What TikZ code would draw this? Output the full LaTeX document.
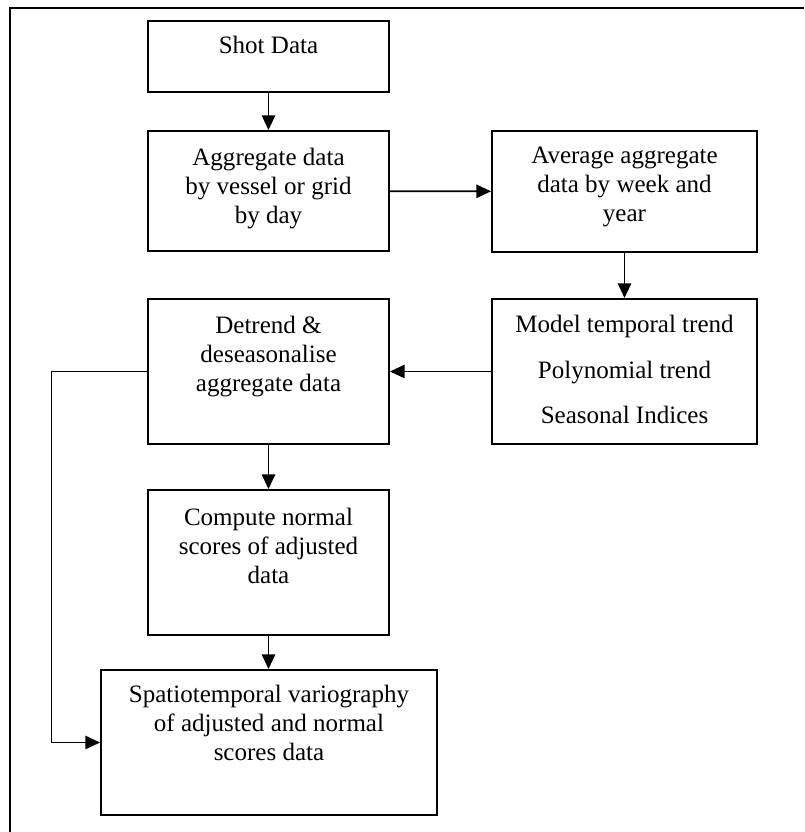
\documentclass[tikz,border=0pt]{standalone}
\usepackage{fontspec}
\setmainfont{Liberation Serif}
\usetikzlibrary{arrows.meta}

\begin{document}
\begin{tikzpicture}[x=0.025cm, y=-0.025cm]
      \tikzstyle{block} = [rectangle, draw, line width=1.3pt, minimum width=6.025cm, minimum height=3.625cm, inner sep=0pt]
      \tikzstyle{txt} = [anchor=north, align=center, inner sep=0pt, font=\fontsize{17.8pt}{20.4pt}\selectfont]
      \tikzstyle{arr} = [-{Triangle[length=10.5pt, width=9.5pt]}, line width=1.3pt]

      \useasboundingbox (0,0) rectangle (804,832);
      \draw[line width=1.2pt] (10,832) -- (10,8) -- (804,8);

      \node[block, minimum height=1.775cm] (shot) at (268.5,56.5) {};
      \node[block, minimum height=3cm] (agg) at (268.5,191) {};
      \node[block, minimum width=6.625cm, minimum height=3.025cm] (avg) at (624.5,191.5) {};
      \node[block] (det) at (268.5,371.5) {};
      \node[block, minimum width=6.625cm] (mod) at (624.5,371.5) {};
      \node[block] (com) at (268.5,562.5) {};
      \node[block, minimum width=8.4cm] (spa) at (269,742.5) {};

      \node[txt] (shottxt) at (268.5,36) {Shot Data};
      \node[txt] (aggtxt) at (268.5,148) {Aggregate data\\by vessel or grid\\by day};
      \node[txt] (avgtxt) at (624.5,147) {Average aggregate\\data by week and\\year};
      \node[txt] (dettxt) at (268.5,316) {Detrend \&\\deseasonalise\\aggregate data};
      \node[txt] (modtxt) at (624.5,315) {Model temporal trend\\[11.9pt]Polynomial trend\\[11.9pt]Seasonal Indices};
      \node[txt] (comtxt) at (268.5,508) {Compute normal\\scores of adjusted\\data};
      \node[txt] (spatxt) at (269,685) {Spatiotemporal variography\\of adjusted and normal\\scores data};

      \draw[arr] (shot) -- (agg);
      \draw[arr] (agg) -- (avg);
      \draw[arr] (avg) -- (mod);
      \draw[arr] (mod) -- (det);
      \draw[arr] (det) -- (com);
      \draw[arr] (com.south) -- (com.south |- spa.north);
      \draw[arr] (det.west) -- ++(-95.5,0) |- (spa.west);
    \end{tikzpicture}
\end{document}
